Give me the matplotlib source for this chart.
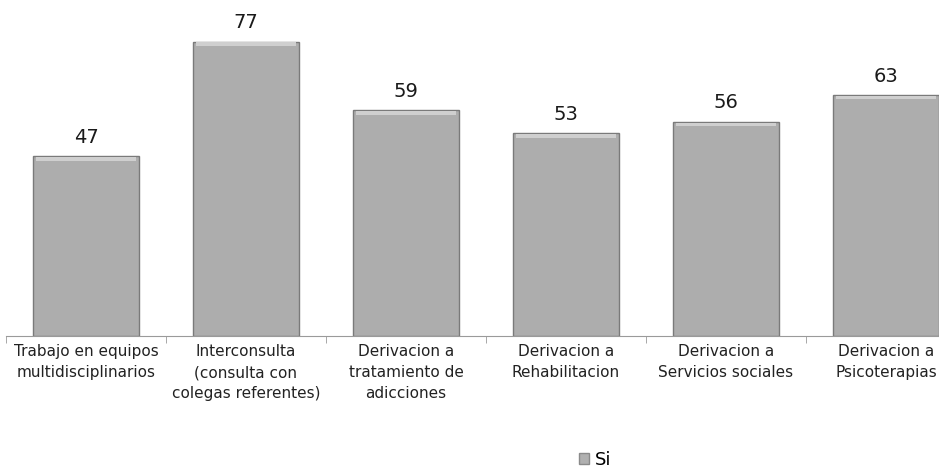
# coding: utf-8

"""
Barras: prácticas de derivación / trabajo en equipo (Si)
"""

import matplotlib.pyplot as plt
from matplotlib.patches import Patch
import numpy as np

categorias = [
	"Trabajo en equipos\nmultidisciplinarios",
	"Interconsulta\n(consulta con\ncolegas referentes)",
	"Derivacion a\ntratamiento de\nadicciones",
	"Derivacion a\nRehabilitacion",
	"Derivacion a\nServicios sociales",
	"Derivacion a\nPsicoterapias",
]
valores_si = [47, 77, 59, 53, 56, 63]
serie = "Si"

def main():
	fig = plt.figure(figsize=(9.39, 4.68), dpi=100)
	# el eje se sale un poco por la derecha, como en el original
	ax = fig.add_axes([6 / 939, 132 / 468, 960 / 939, 325 / 468])

	xs = np.arange(len(categorias))
	bars = ax.bar(xs, valores_si, width=0.66, color="#adadad",
		edgecolor="#7a7a7a", linewidth=1.0, zorder=2)

	# brillo arriba (efecto bisel)
	for b in bars:
		x0 = b.get_x(); w = b.get_width(); h = b.get_height()
		ax.fill_between([x0 + 0.02, x0 + w - 0.02], h - 1.1, h - 0.2,
			color="#cfcfcf", lw=0, zorder=3)

	for x, v in zip(xs, valores_si):
		ax.text(x, v + 2.5, str(v), ha="center", va="bottom",
			fontsize=14, color="#1a1a1a", family="DejaVu Sans")

	ax.set_xlim(-0.5, len(categorias) - 0.5)
	ax.set_ylim(0, 85)

	for s in ["top", "right", "left"]:
		ax.spines[s].set_visible(False)
	ax.spines["bottom"].set_color("#9a9a9a")
	ax.set_yticks([])

	ax.set_xticks(xs)
	ax.set_xticklabels(categorias, fontsize=11, color="#222222",
		family="DejaVu Sans", linespacing=1.5)
	ax.tick_params(axis="x", which="major", length=0, pad=6)
	ax.set_xticks(np.arange(len(categorias) + 1) - 0.5, minor=True)
	ax.tick_params(axis="x", which="minor", length=5, color="#9a9a9a")

	fig.legend(handles=[Patch(facecolor="#b0b0b0", edgecolor="#8a8a8a", label=serie)],
		loc="center", bbox_to_anchor=(595 / 939, 1 - 460 / 468), frameon=False,
		handlelength=0.55, handleheight=0.55, handletextpad=0.3,
		prop={"family": "DejaVu Sans", "size": 13})

	fig.savefig("out.png", dpi=100)

if __name__ == "__main__":
	main()
